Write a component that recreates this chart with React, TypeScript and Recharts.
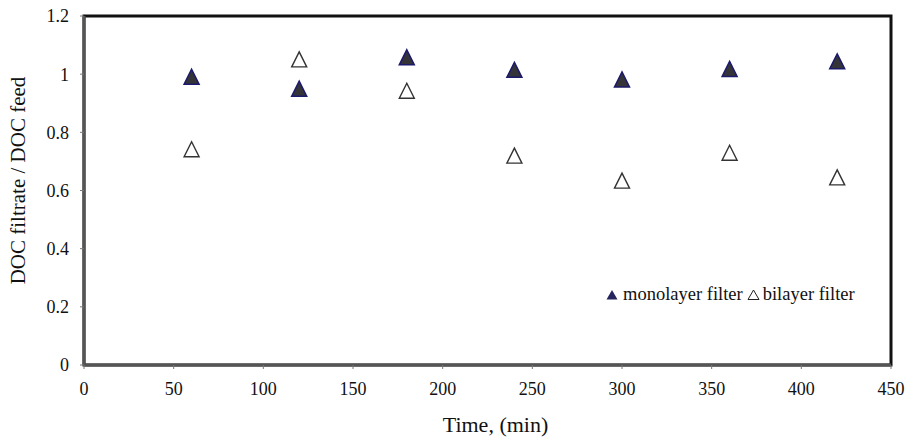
import React from "react";
import {
  ScatterChart,
  Scatter,
  XAxis,
  YAxis,
  ReferenceArea,
} from "recharts";

// time (min) at which filtrate was sampled
const times = [60, 120, 180, 240, 300, 360, 420];
// DOC filtrate / DOC feed
const monolayer = [0.991, 0.95, 1.058, 1.015, 0.982, 1.018, 1.044];
const bilayer = [0.742, 1.051, 0.943, 0.72, 0.634, 0.73, 0.645];

const xTicks = [0, 50, 100, 150, 200, 250, 300, 350, 400, 450];
const yTicks = [0, 0.2, 0.4, 0.6, 0.8, 1, 1.2];

const FONT = '"Liberation Serif", "Times New Roman", serif';

const monoData = times.map((t, i) => ({ t, v: monolayer[i] }));
const biData = times.map((t, i) => ({ t, v: bilayer[i] }));

function Tri({ cx, cy, filled }: { cx?: number; cy?: number; filled: boolean }) {
  if (cx == null || cy == null) return null;
  const w = 15;
  const h = 15;
  const pts = `${cx},${cy - h / 2} ${cx + w / 2},${cy + h / 2} ${cx - w / 2},${cy + h / 2}`;
  return filled ? (
    <polygon points={pts} fill="#333338" stroke="#1c1a6a" strokeWidth={1.5} />
  ) : (
    <polygon points={pts} fill="#fff" stroke="#333" strokeWidth={1.4} />
  );
}

const tickStyle = { fill: "#111", fontSize: 18, fontFamily: FONT };

export default function App() {
  return (
    <div style={{ position: "absolute", left: 0, top: 0, width: 905, height: 438, background: "#fff" }}>
      <ScatterChart width={905} height={438} margin={{ top: 16, right: 14, bottom: 43, left: 0 }}>
        <ReferenceArea x1={0} x2={450} y1={0} y2={1.2} fill="none" stroke="#111" strokeWidth={3} ifOverflow="visible" />
        <XAxis
          type="number"
          dataKey="t"
          domain={[0, 450]}
          ticks={xTicks}
          height={30}
          tickSize={4}
          tickMargin={13}
          tick={tickStyle}
          axisLine={{ stroke: "#555", strokeWidth: 3 }}
          tickLine={{ stroke: "#777" }}
          label={{
            content: ({ viewBox }: any) => (
              <text
                x={viewBox.x + viewBox.width / 2 + 8}
                y={viewBox.y + 59}
                textAnchor="middle"
                dominantBaseline="central"
                fontFamily={FONT}
                fontSize={22}
                fill="#111"
              >
                Time, (min)
              </text>
            ),
          }}
        />
        <YAxis
          type="number"
          dataKey="v"
          domain={[0, 1.2]}
          ticks={yTicks}
          width={84}
          tickSize={4}
          tickMargin={11}
          tick={tickStyle}
          axisLine={{ stroke: "#555", strokeWidth: 3 }}
          tickLine={{ stroke: "#777" }}
          label={{
            content: ({ viewBox }: any) => {
              const x = 18;
              const y = viewBox.y + viewBox.height / 2 - 10;
              return (
                <text
                  x={x}
                  y={y}
                  transform={`rotate(-90 ${x} ${y})`}
                  textAnchor="middle"
                  dominantBaseline="central"
                  fontFamily={FONT}
                  fontSize={21}
                  fill="#111"
                >
                  DOC filtrate / DOC feed
                </text>
              );
            },
          }}
        />
        <Scatter
          name="monolayer filter"
          data={monoData}
          isAnimationActive={false}
          shape={(p: any) => <Tri cx={p.cx} cy={p.cy} filled />}
        />
        <Scatter
          name="bilayer filter"
          data={biData}
          isAnimationActive={false}
          shape={(p: any) => <Tri cx={p.cx} cy={p.cy} filled={false} />}
        />
      </ScatterChart>
      <div
        style={{
          position: "absolute",
          left: 606,
          top: 284,
          fontFamily: FONT,
          fontSize: 18.5,
          color: "#111",
          display: "flex",
          alignItems: "center",
          whiteSpace: "nowrap",
        }}
      >
        <svg width={12} height={11} style={{ marginRight: 5 }}>
          <polygon points="6,1 11.5,10.5 0.5,10.5" fill="#26245e" />
        </svg>
        <span>monolayer filter</span>
        <svg width={13} height={11} style={{ marginLeft: 4, marginRight: 3 }}>
          <polygon points="6.5,1 12,10.5 1,10.5" fill="none" stroke="#222" strokeWidth={1} />
        </svg>
        <span>bilayer filter</span>
      </div>
    </div>
  );
}
